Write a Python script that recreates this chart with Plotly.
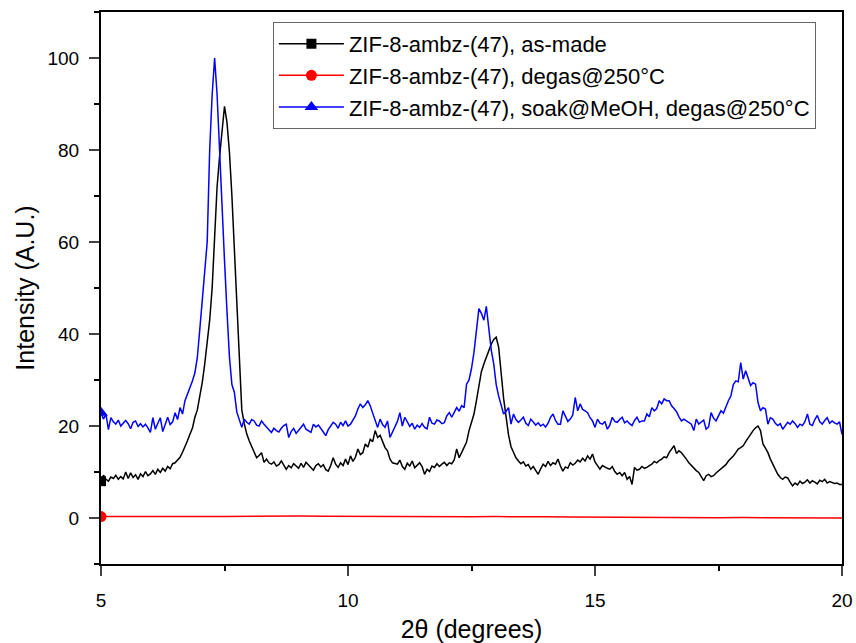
import numpy as np
import plotly.graph_objects as go

# 2-theta grid (degrees), 0.05 step readings
two_theta = [round(5 + 0.05 * i, 2) for i in range(301)]

as_made = [
    8.0, 9.3, 8.4, 8.0, 8.9, 8.6, 9.3, 8.4, 9.0, 8.5, 10.0, 8.6, 9.8, 8.8, 9.4, 8.4, 9.6, 9.0, 10.1, 9.2,
    9.6, 10.3, 9.5, 10.6, 9.9, 10.8, 10.2, 11.2, 10.7, 11.8, 12.0, 12.6, 13.2, 14.3, 15.4, 16.8, 18.2, 19.5, 21.9, 23.5,
    26.5, 29.5, 33.5, 38.0, 43.0, 50.0, 60.0, 72.0, 78.5, 84.0, 89.5, 86.0, 79.5, 70.0, 58.0, 45.0, 32.0, 23.5, 20.5, 18.3,
    16.8, 15.5, 14.6, 13.1, 13.6, 14.2, 12.1, 12.8, 12.0, 11.7, 12.2, 11.3, 11.6, 12.4, 11.5, 10.6, 11.4, 10.9, 11.8, 11.3,
    10.8, 11.9, 11.0, 12.1, 11.5, 10.9, 10.4, 11.4, 11.8, 11.1, 11.6, 10.5, 10.2, 11.4, 13.1, 11.7, 11.0, 12.0, 11.4, 12.8,
    11.6, 13.5, 12.3, 13.2, 15.0, 13.8, 14.2, 16.1, 15.4, 17.1, 16.6, 19.0, 17.5, 18.0, 16.8, 15.3, 14.6, 12.8, 12.0, 11.8,
    11.7, 12.6, 11.2, 10.6, 11.9, 11.3, 12.4, 10.9, 11.5, 12.0, 11.2, 9.5, 10.6, 10.1, 11.3, 11.0, 11.8, 11.2, 11.7, 12.1,
    11.4, 12.0, 11.8, 12.6, 15.0, 13.1, 14.2, 15.3, 16.5, 19.0, 20.8, 22.6, 25.5, 29.1, 31.8, 33.5, 34.9, 36.5, 37.8, 38.8,
    39.3, 37.1, 31.0, 26.0, 22.0, 18.0, 15.5, 14.2, 13.1, 12.4, 11.8, 12.2, 11.3, 11.6, 10.6, 11.2, 10.2, 9.5, 10.7, 11.7,
    11.2, 12.3, 11.4, 12.0, 11.7, 12.8, 11.3, 10.2, 11.1, 10.8, 12.0, 11.5, 11.9, 12.6, 12.2, 13.0, 12.4, 13.5, 12.8, 13.9,
    12.2, 11.5, 10.6, 11.4, 11.0, 10.8, 10.6, 11.2, 10.1, 9.5, 9.9, 9.2, 9.9, 8.4, 9.0, 7.3, 11.0, 10.4, 10.6, 11.2,
    10.8, 11.0, 11.4, 11.7, 12.3, 12.0, 12.5, 12.8, 13.3, 13.1, 14.2, 15.0, 15.7, 14.0, 14.6, 14.2, 13.6, 12.8, 12.0, 11.4,
    11.0, 10.3, 9.9, 9.0, 8.1, 9.2, 9.5, 9.0, 9.2, 9.8, 10.2, 10.6, 11.0, 11.6, 12.4, 12.9, 13.5, 14.2, 15.0, 15.3,
    15.7, 16.6, 17.5, 18.2, 19.0, 19.6, 20.0, 19.0, 16.1, 15.2, 14.2, 12.8, 11.7, 10.5, 9.5, 8.8, 8.4, 8.9, 8.7, 7.8,
    7.0, 7.6, 7.2, 8.0, 7.5, 7.8, 8.3, 7.6, 8.1, 7.8, 7.4, 8.2, 7.9, 8.4, 7.6, 7.9, 7.7, 7.5, 7.6, 7.3,
    7.3,
]

soak_degas = [
    22.9, 21.5, 22.6, 19.2, 21.8, 20.9, 20.4, 21.3, 20.0, 20.6, 21.2, 20.5, 19.4, 20.8, 21.1, 19.9, 20.5, 19.8, 20.4, 19.6,
    18.6, 21.8, 19.3, 20.6, 21.8, 18.8, 20.4, 21.9, 20.3, 20.9, 22.9, 21.4, 24.0, 22.6, 25.5, 26.9, 28.2, 29.8, 31.5, 34.9,
    41.0, 47.5, 53.0, 60.0, 80.0, 92.0, 100.0, 92.0, 80.0, 66.0, 56.0, 45.0, 35.0, 29.0, 27.3, 23.0, 21.5, 19.7, 21.5, 20.8,
    20.4, 21.4, 21.1, 20.2, 20.0, 21.1, 20.4, 19.7, 19.2, 18.6, 19.5, 19.0, 18.7, 19.5, 20.1, 20.4, 17.5, 18.8, 19.5, 18.4,
    19.0, 19.8, 20.4, 19.3, 19.0, 18.6, 20.4, 19.8, 20.2, 19.3, 18.7, 17.9, 19.2, 20.0, 20.8, 20.4, 19.5, 20.8, 20.1, 21.1,
    20.0, 20.4, 21.2, 22.2, 23.7, 24.8, 24.0, 24.6, 25.5, 24.4, 22.8, 21.1, 19.7, 21.5, 20.3, 19.7, 21.1, 17.5, 18.8, 19.7,
    21.0, 22.9, 20.0, 21.9, 20.8, 19.9, 20.6, 19.3, 20.2, 19.7, 20.5, 19.7, 19.4, 21.9, 20.6, 20.4, 21.3, 21.1, 20.5, 20.7,
    22.2, 22.9, 21.9, 23.0, 24.0, 23.2, 24.4, 24.0, 29.1, 30.0, 32.5, 36.0, 41.0, 45.5, 44.5, 43.0, 46.0, 41.0, 36.5, 33.5,
    29.0, 26.5, 24.8, 22.6, 23.2, 24.0, 20.4, 22.6, 21.4, 20.8, 21.3, 21.9, 20.6, 20.1, 21.5, 20.9, 20.2, 20.7, 20.0, 20.4,
    19.8, 20.6, 21.9, 22.6, 21.2, 20.4, 20.4, 23.3, 22.0, 21.0, 21.5, 22.4, 26.2, 23.3, 24.8, 23.6, 23.3, 22.9, 21.8, 21.1,
    19.7, 21.5, 20.6, 20.4, 21.0, 19.3, 20.2, 21.9, 21.0, 20.8, 21.4, 21.9, 20.7, 21.1, 20.5, 20.1, 21.2, 21.9, 20.8, 21.1,
    21.1, 22.6, 22.0, 24.0, 23.3, 23.8, 25.5, 24.8, 25.9, 25.5, 25.5, 24.4, 23.8, 23.1, 22.0, 21.1, 21.5, 21.1, 20.6, 20.4,
    19.0, 21.5, 20.4, 20.8, 21.3, 19.3, 19.8, 22.9, 21.7, 21.1, 22.4, 23.3, 22.8, 24.4, 25.5, 26.5, 29.0, 29.8, 29.6, 33.8,
    30.2, 32.0, 30.5, 28.8, 29.4, 29.1, 25.1, 23.3, 24.0, 23.7, 20.4, 21.8, 21.5, 20.6, 20.1, 20.5, 19.3, 20.0, 20.8, 20.4,
    21.1, 20.5, 19.7, 20.4, 20.1, 21.0, 22.6, 20.4, 20.1, 21.4, 22.3, 20.9, 20.4, 21.2, 21.8, 20.6, 21.1, 20.7, 20.4, 20.9,
    18.2,
]

# degassed sample: essentially flat, 0.5 degree readings
two_theta_red = [5 + 0.5 * i for i in range(31)]
degas = [0.3, 0.35, 0.3, 0.4, 0.35, 0.3, 0.4, 0.35, 0.45, 0.4, 0.35, 0.4, 0.3, 0.35, 0.3, 0.25,
         0.3, 0.2, 0.25, 0.2, 0.15, 0.2, 0.1, 0.15, 0.1, 0.05, 0.1, 0.05, 0.05, 0.0, 0.0]

names = ["ZIF-8-ambz-(47), as-made",
         "ZIF-8-ambz-(47), degas@250°C",
         "ZIF-8-ambz-(47), soak@MeOH, degas@250°C"]
colors = ["#000000", "#ff0000", "#0000ff"]
symbols = ["square", "circle", "triangle-up"]
msizes = [10, 11, 12]
series = [(two_theta, as_made), (two_theta_red, degas), (two_theta, soak_degas)]

fig = go.Figure()
for (xs, ys), c in zip(series, colors):
    fig.add_trace(go.Scatter(x=xs, y=ys, mode="lines", showlegend=False,
                             line=dict(color=c, width=1.5)))
for (xs, ys), n, c, s, ms in zip(series, names, colors, symbols, msizes):
    fig.add_trace(go.Scatter(x=[xs[0]], y=[ys[0]], mode="lines+markers", name=n,
                             line=dict(color=c, width=1.5),
                             marker=dict(color=c, symbol=s, size=ms)))

font = "Arial, Liberation Sans, sans-serif"
fig.update_layout(
    width=856, height=643,
    margin=dict(l=101, r=14, t=12, b=79),
    paper_bgcolor="white", plot_bgcolor="white",
    font=dict(family=font, size=19, color="black"),
    legend=dict(x=0.232, y=0.982, xanchor="left", yanchor="top",
                bordercolor="#666666", borderwidth=1, bgcolor="white",
                font=dict(size=22), itemwidth=65, tracegroupgap=0),
)
fig.update_xaxes(range=[5, 20], dtick=5, tick0=5, ticks="outside", ticklen=10, tickwidth=2,
                 showline=True, linewidth=2, linecolor="black", mirror=True, automargin=False,
                 showgrid=False, zeroline=False, ticklabelstandoff=8,
                 minor=dict(dtick=2.5, ticks="outside", ticklen=5, tickwidth=2, tickcolor="black"),
                 title=dict(text="2θ (degrees)", font=dict(size=25), standoff=14))
fig.update_yaxes(range=[-10, 110], dtick=20, tick0=0, ticks="outside", ticklen=10, tickwidth=2,
                 showline=True, linewidth=2, linecolor="black", mirror=True, automargin=False,
                 showgrid=False, zeroline=False, ticklabelstandoff=6,
                 minor=dict(dtick=10, ticks="outside", ticklen=5, tickwidth=2, tickcolor="black"),
                 title=dict(text="Intensity (A.U.)", font=dict(size=25), standoff=6))

fig.write_html("out.html")
